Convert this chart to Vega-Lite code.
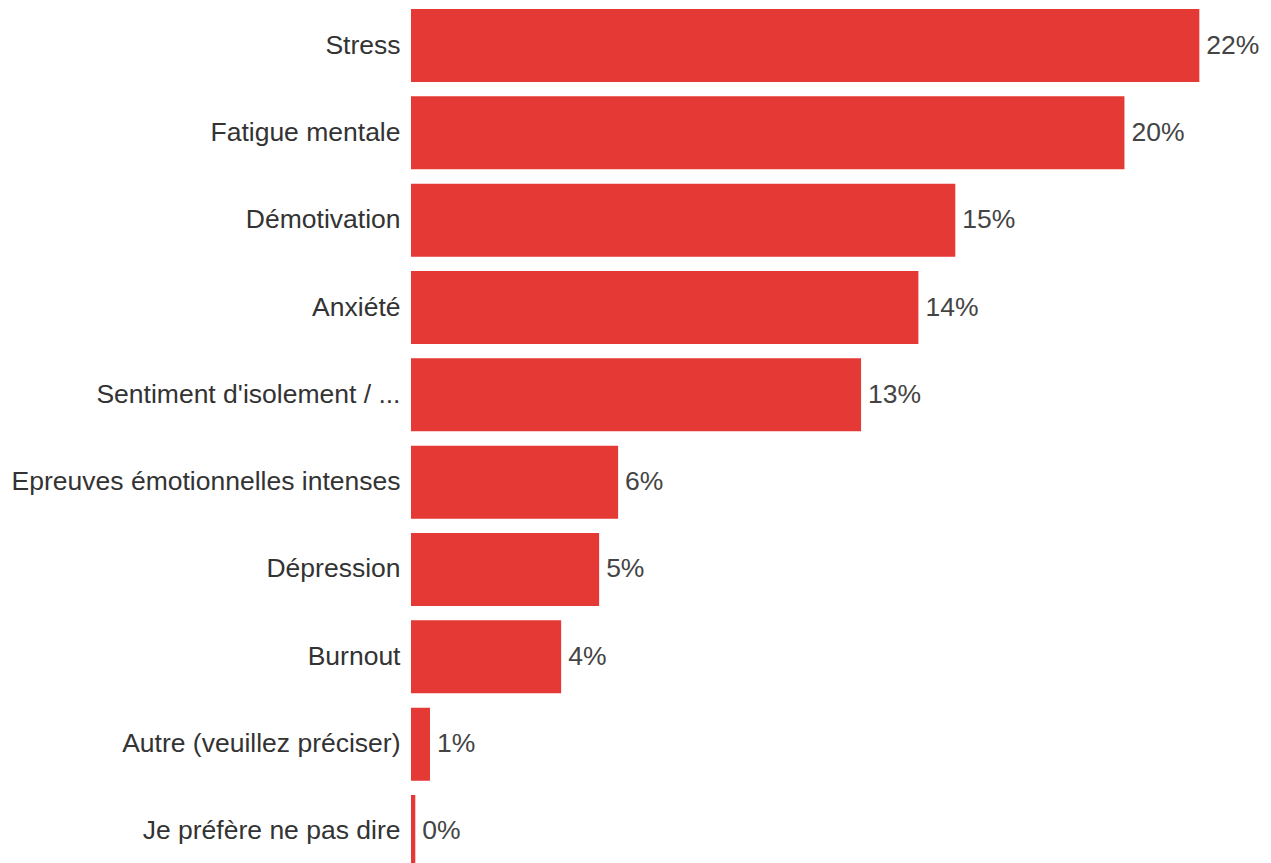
{
  "$schema": "https://vega.github.io/schema/vega-lite/v6.json",
  "autosize": {"type": "none"},
  "padding": {"left": 411, "top": 9, "right": 0, "bottom": 0},
  "width": 860,
  "height": 854,
  "background": "white",
  "config": {"view": {"stroke": null}, "font": "Liberation Sans"},
  "data": {"values": [
    {"categorie": "Stress", "part": 0.22},
    {"categorie": "Fatigue mentale", "part": 0.1991},
    {"categorie": "Démotivation", "part": 0.1519},
    {"categorie": "Anxiété", "part": 0.1416},
    {"categorie": "Sentiment d'isolement / ...", "part": 0.1256},
    {"categorie": "Epreuves émotionnelles intenses", "part": 0.0578},
    {"categorie": "Dépression", "part": 0.0525},
    {"categorie": "Burnout", "part": 0.0419},
    {"categorie": "Autre (veuillez préciser)", "part": 0.0053},
    {"categorie": "Je préfère ne pas dire", "part": 0.0012}
  ]},
  "encoding": {
    "y": {
      "field": "categorie", "type": "nominal", "sort": null,
      "scale": {"range": [0, 859], "paddingInner": 0.164, "paddingOuter": 0},
      "axis": {"title": null, "ticks": false, "domain": false, "labelFontSize": 26.5, "labelColor": "#333333", "labelPadding": 11, "labelLimit": 600, "labelFont": "Liberation Sans"}
    },
    "x": {
      "field": "part", "type": "quantitative",
      "scale": {"domain": [0, 0.24], "nice": false},
      "axis": null
    }
  },
  "layer": [
    {"mark": {"type": "bar", "color": "#E53935"}},
    {"mark": {"type": "text", "align": "left", "baseline": "middle", "dx": 7, "fontSize": 26.5, "color": "#444444", "font": "Liberation Sans"},
     "encoding": {"text": {"field": "part", "type": "quantitative", "format": ".0%"}}}
  ]
}
